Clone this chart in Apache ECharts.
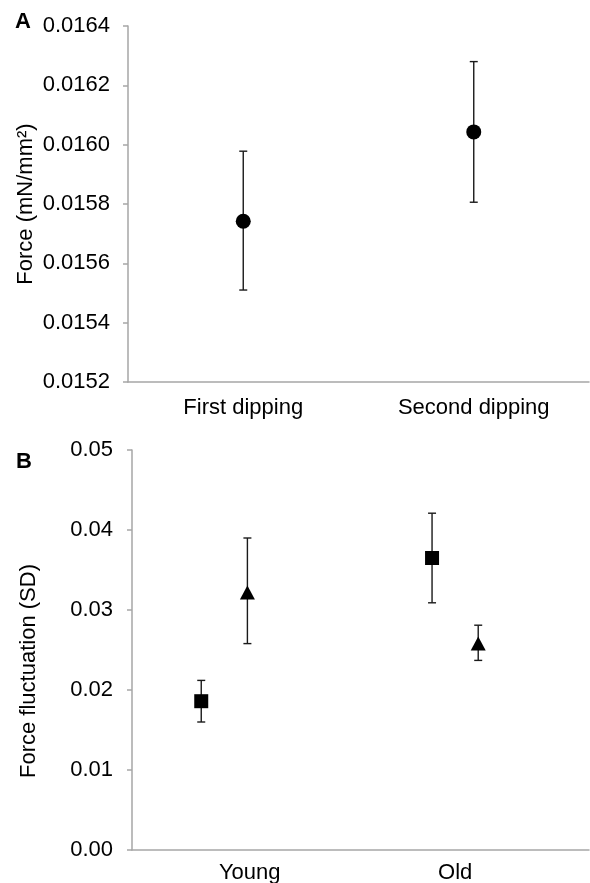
<!DOCTYPE html>
<html>
<head>
<meta charset="utf-8">
<script src="https://cdn.jsdelivr.net/npm/echarts@6/dist/echarts.min.js"></script>
<style>
html,body{margin:0;padding:0;background:#fff}
#chart{width:590px;height:883px}
</style>
</head>
<body>
<div id="chart"></div>
<script>
// panel A
var dippings = ['First dipping', 'Second dipping'];
var forceMean = [0.015742, 0.016043];
var forceHigh = [0.015978, 0.016280];
var forceLow = [0.015510, 0.015806];

// panel B
var groups = ['Young', 'Old'];
var squareMean = [0.0186, 0.0365];
var squareHigh = [0.0212, 0.0421];
var squareLow = [0.0160, 0.0309];
var triangleMean = [0.0322, 0.0258];
var triangleHigh = [0.0390, 0.0281];
var triangleLow = [0.0258, 0.0237];

var font = "'Liberation Sans', Arial, sans-serif";
var axisGray = '#a6a6a6';

function errorBar(params, api) {
    var x = api.value(0);
    var top = api.coord([x, api.value(1)]);
    var bot = api.coord([x, api.value(2)]);
    var w = 4;
    var st = {stroke: '#1a1a1a', lineWidth: 1.4};
    return {
        type: 'group',
        children: [
            {type: 'line', shape: {x1: top[0], y1: top[1], x2: bot[0], y2: bot[1]}, style: st},
            {type: 'line', shape: {x1: top[0] - w, y1: top[1], x2: top[0] + w, y2: top[1]}, style: st},
            {type: 'line', shape: {x1: bot[0] - w, y1: bot[1], x2: bot[0] + w, y2: bot[1]}, style: st}
        ]
    };
}

// x position in panel B: group index + dodge
function dodge(i, off) { return i + 1 + off; }

var aBars = [], aPts = [];
for (var i = 0; i < dippings.length; i++) {
    aBars.push([i, forceHigh[i], forceLow[i]]);
    aPts.push([i, forceMean[i]]);
}
var sqBars = [], sqPts = [], trBars = [], trPts = [];
for (var j = 0; j < groups.length; j++) {
    sqBars.push([dodge(j, -0.1), squareHigh[j], squareLow[j]]);
    sqPts.push([dodge(j, -0.1), squareMean[j]]);
    trBars.push([dodge(j, 0.1), triangleHigh[j], triangleLow[j]]);
    trPts.push([dodge(j, 0.1), triangleMean[j]]);
}

var labelStyle = {color: '#000', fontSize: 22, fontFamily: font};
var markStyle = {color: '#000', opacity: 1};

var myChart = echarts.init(document.getElementById('chart'));
var option = {
    animation: false,
    backgroundColor: '#fff',
    textStyle: {fontFamily: font},
    title: [
        {text: 'A', left: 10, top: 6, textStyle: {fontSize: 22, fontWeight: 'bold', color: '#000', fontFamily: font}},
        {text: 'B', left: 11, top: 446, textStyle: {fontSize: 22, fontWeight: 'bold', color: '#000', fontFamily: font}}
    ],
    grid: [
        {left: 128, right: 1, top: 26, bottom: 501, outerBoundsMode: 'none'},
        {left: 132, right: 1, top: 450, bottom: 33, outerBoundsMode: 'none'}
    ],
    xAxis: [
        {
            gridIndex: 0,
            type: 'category',
            data: dippings,
            boundaryGap: true,
            axisLine: {lineStyle: {color: axisGray, width: 1.5}},
            axisTick: {show: false},
            axisLabel: Object.assign({margin: 15}, labelStyle)
        },
        {
            gridIndex: 1,
            type: 'value',
            min: 0.6,
            max: 2.58,
            splitLine: {show: false},
            axisLine: {lineStyle: {color: axisGray, width: 1.5}},
            axisTick: {show: false},
            axisLabel: Object.assign({
                margin: 12,
                customValues: [1.11, 2.0],
                formatter: function (v) { return v < 1.5 ? groups[0] : groups[1]; }
            }, labelStyle)
        }
    ],
    yAxis: [
        {
            gridIndex: 0,
            type: 'value',
            min: 0.0152,
            max: 0.0164,
            interval: 0.0002,
            name: 'Force (mN/mm²)',
            nameLocation: 'middle',
            nameGap: 91,
            nameMoveOverlap: false,
            nameTextStyle: {color: '#000', fontSize: 22, fontFamily: font},
            splitLine: {show: false},
            axisLine: {show: true, lineStyle: {color: axisGray, width: 1.5}},
            axisTick: {show: true, length: 5, lineStyle: {color: axisGray, width: 1.5}},
            axisLabel: Object.assign({margin: 18, formatter: function (v) { return v.toFixed(4); }}, labelStyle)
        },
        {
            gridIndex: 1,
            type: 'value',
            min: 0,
            max: 0.05,
            interval: 0.01,
            name: 'Force fluctuation (SD)',
            nameLocation: 'middle',
            nameGap: 92,
            nameMoveOverlap: false,
            nameTextStyle: {color: '#000', fontSize: 22, fontFamily: font, padding: [0, 42, 0, 0]},
            splitLine: {show: false},
            axisLine: {show: true, lineStyle: {color: axisGray, width: 1.5}},
            axisTick: {show: true, length: 5, lineStyle: {color: axisGray, width: 1.5}},
            axisLabel: Object.assign({margin: 19, formatter: function (v) { return v.toFixed(2); }}, labelStyle)
        }
    ],
    series: [
        {type: 'custom', xAxisIndex: 0, yAxisIndex: 0, renderItem: errorBar, encode: {x: 0, y: [1, 2]}, data: aBars, z: 2},
        {type: 'scatter', xAxisIndex: 0, yAxisIndex: 0, symbol: 'circle', symbolSize: 15, itemStyle: markStyle, data: aPts, z: 3},
        {type: 'custom', xAxisIndex: 1, yAxisIndex: 1, renderItem: errorBar, encode: {x: 0, y: [1, 2]}, data: sqBars, z: 2},
        {type: 'scatter', xAxisIndex: 1, yAxisIndex: 1, symbol: 'rect', symbolSize: 14, itemStyle: markStyle, data: sqPts, z: 3},
        {type: 'custom', xAxisIndex: 1, yAxisIndex: 1, renderItem: errorBar, encode: {x: 0, y: [1, 2]}, data: trBars, z: 2},
        {type: 'scatter', xAxisIndex: 1, yAxisIndex: 1, symbol: 'triangle', symbolSize: [15, 14], itemStyle: markStyle, data: trPts, z: 3}
    ]
};
myChart.setOption(option, true);
</script>
</body>
</html>
